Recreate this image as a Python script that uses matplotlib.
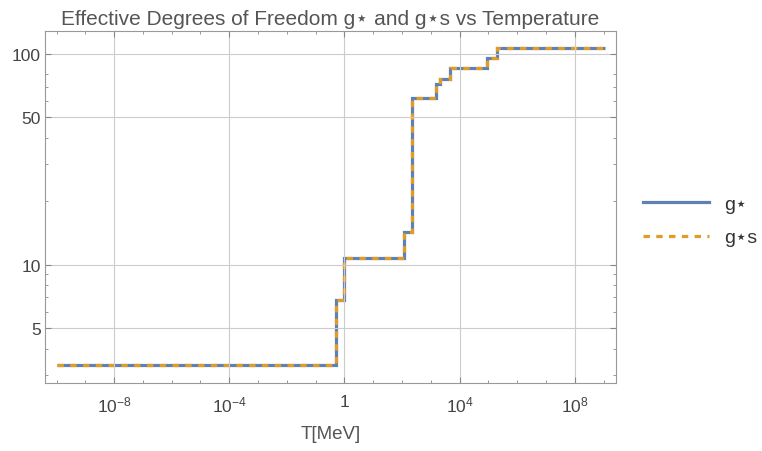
import numpy as np
import matplotlib
matplotlib.use("Agg")
import matplotlib.pyplot as plt
from matplotlib.ticker import FixedLocator, NullFormatter

plt.rcParams['font.family'] = ['Liberation Sans', 'DejaVu Sans']
plt.rcParams['mathtext.fontset'] = 'custom'
plt.rcParams['mathtext.rm'] = 'Liberation Sans'
plt.rcParams['mathtext.it'] = 'Liberation Sans'
plt.rcParams['mathtext.default'] = 'rm'

# step edges in MeV and the value on each interval
T_edges = [1e-10, 0.5, 1.0, 120, 230, 1550, 2000, 4800, 9.1e4, 2e5, 1.1e9]
g_star = [3.36, 6.8, 10.75, 14.25, 61.75, 72.25, 75.75, 86.25, 95.25, 106.75]
g_star_s = [3.36, 6.8, 10.75, 14.25, 61.75, 72.25, 75.75, 86.25, 95.25, 106.75]

blue = '#5E81B5'
yellow = '#E19C24'
grey = '#555555'

fig = plt.figure(figsize=(7.62, 4.52), dpi=100)
ax = fig.add_axes([45/762, 1 - 384/452, (616-45)/762, (384-32)/452])

ax.stairs(g_star, T_edges, color=blue, lw=2.3, baseline=None)
ax.stairs(g_star_s, T_edges, color=yellow, lw=2.3, ls=(0, (2.0, 2.0)), baseline=None)

ax.set_xscale('log')
ax.set_yscale('log')
ax.set_xlim(10**-10.4, 10**9.43)
ax.set_ylim(2.75, 128.5)

ax.xaxis.set_major_locator(FixedLocator([1e-8, 1e-4, 1, 1e4, 1e8]))
ax.set_xticklabels(['$10^{-8}$', '$10^{-4}$', '1', '$10^{4}$', '$10^{8}$'])
ax.xaxis.set_minor_locator(FixedLocator([10.0**k for k in range(-10, 10)]))
ax.xaxis.set_minor_formatter(NullFormatter())
ax.yaxis.set_major_locator(FixedLocator([5, 10, 50, 100]))
ax.set_yticklabels(['5', '10', '50', '100'])
ax.yaxis.set_minor_locator(FixedLocator([3, 4, 6, 7, 8, 9, 20, 30, 40, 60, 70, 80]))
ax.yaxis.set_minor_formatter(NullFormatter())

ax.tick_params(which='both', direction='in', top=True, right=True,
               colors='#888888', labelcolor='#444444', labelsize=12.5)
ax.tick_params(which='major', length=4)
ax.tick_params(which='minor', length=2.5)
ax.tick_params(axis='x', which='major', pad=8)
ax.tick_params(axis='y', which='major', pad=3)
ax.grid(True, which='major', color='#cccccc', lw=0.8)
for s in ax.spines.values():
    s.set_color('#999999')

ax.set_title('Effective Degrees of Freedom g⋆ and g⋆s vs Temperature',
             color=grey, fontsize=15, pad=5)
ax.set_xlabel('T[MeV]', color=grey, fontsize=13.5, labelpad=8)

h1, = ax.plot([], [], color=blue, lw=2.3, label='g⋆')
h2, = ax.plot([], [], color=yellow, lw=2.3, ls=(0, (2.0, 2.0)), label='g⋆s')
fig.legend(handles=[h1, h2], loc='center left', bbox_to_anchor=(625/762, 1 - 222/452),
           frameon=False, fontsize=14, handlelength=3.4, labelspacing=0.8,
           labelcolor='#333333')

fig.savefig('out.png', dpi=100)
